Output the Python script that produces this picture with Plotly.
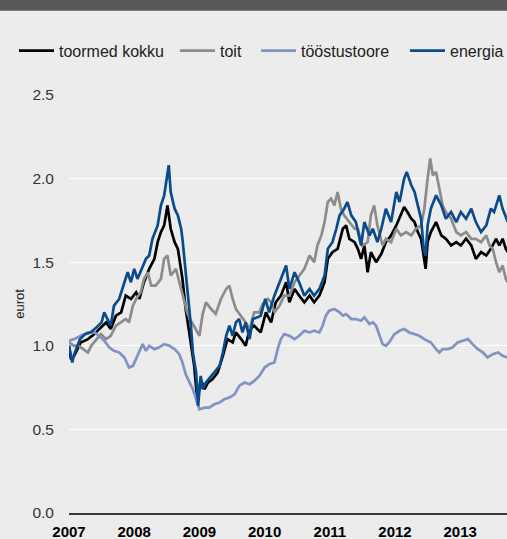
import pandas as pd
import plotly.graph_objects as go

# ---------------- data (decimal years, values in euros) ----------------
series_names = ["toormed kokku", "toit", "tööstustoore", "energia"]
series_colors = ["#000000", "#8c8c8c", "#8193c3", "#0b4a8b"]

t_kokku = [2007.00, 2007.03, 2007.08, 2007.18, 2007.29, 2007.39, 2007.49, 2007.57, 2007.64, 2007.72, 2007.80, 2007.87, 2007.95,
           2008.03, 2008.08, 2008.15, 2008.23, 2008.31, 2008.36, 2008.41, 2008.46, 2008.51, 2008.56, 2008.62, 2008.67, 2008.72, 2008.74, 2008.79, 2008.82, 2008.87, 2008.92, 2008.97,
           2009.02, 2009.08, 2009.13, 2009.20, 2009.28, 2009.36, 2009.43, 2009.51, 2009.56, 2009.64, 2009.71, 2009.77, 2009.84, 2009.94,
           2010.02, 2010.10, 2010.17, 2010.25, 2010.33, 2010.38, 2010.46, 2010.53, 2010.61, 2010.69, 2010.76, 2010.84, 2010.92, 2010.97,
           2011.04, 2011.12, 2011.20, 2011.25, 2011.30, 2011.38, 2011.43, 2011.48, 2011.53, 2011.58, 2011.63, 2011.71, 2011.79, 2011.86, 2011.94,
           2012.02, 2012.09, 2012.14, 2012.19, 2012.25, 2012.30, 2012.35, 2012.40, 2012.44, 2012.47, 2012.50, 2012.55, 2012.63, 2012.71, 2012.78, 2012.86, 2012.94,
           2013.01, 2013.09, 2013.17, 2013.24, 2013.32, 2013.40, 2013.47, 2013.55, 2013.60, 2013.65, 2013.70, 2013.73]
v_kokku = [1.00, 0.92, 0.94, 1.02, 1.04, 1.07, 1.11, 1.14, 1.10, 1.18, 1.20, 1.30, 1.28,
           1.32, 1.28, 1.38, 1.46, 1.52, 1.62, 1.68, 1.72, 1.84, 1.70, 1.62, 1.58, 1.46, 1.40, 1.22, 1.14, 1.00, 0.88, 0.66,
           0.80, 0.74, 0.78, 0.80, 0.84, 0.94, 1.04, 1.02, 1.08, 1.04, 1.00, 1.10, 1.12, 1.08,
           1.20, 1.14, 1.26, 1.30, 1.38, 1.26, 1.34, 1.30, 1.26, 1.30, 1.26, 1.30, 1.38, 1.52,
           1.56, 1.58, 1.70, 1.72, 1.64, 1.62, 1.58, 1.52, 1.60, 1.44, 1.56, 1.50, 1.55, 1.62, 1.66,
           1.72, 1.78, 1.83, 1.80, 1.76, 1.74, 1.68, 1.64, 1.52, 1.46, 1.62, 1.68, 1.74, 1.66, 1.64, 1.60, 1.62,
           1.60, 1.64, 1.60, 1.52, 1.56, 1.54, 1.58, 1.64, 1.60, 1.64, 1.58, 1.56]

t_toit = [2007.00, 2007.08, 2007.15, 2007.23, 2007.29, 2007.34, 2007.41, 2007.49, 2007.57, 2007.64, 2007.72, 2007.80, 2007.87, 2007.92, 2007.98,
          2008.03, 2008.10, 2008.15, 2008.21, 2008.26, 2008.33, 2008.41, 2008.46, 2008.51, 2008.56, 2008.64, 2008.72, 2008.77, 2008.82, 2008.87, 2008.95,
          2009.00, 2009.05, 2009.10, 2009.18, 2009.25, 2009.33, 2009.41, 2009.46, 2009.51, 2009.56, 2009.64, 2009.71, 2009.77, 2009.84, 2009.92, 2009.97,
          2010.05, 2010.10, 2010.15, 2010.23, 2010.30, 2010.38, 2010.46, 2010.53, 2010.61, 2010.69, 2010.76, 2010.81, 2010.87, 2010.92, 2010.97,
          2011.02, 2011.07, 2011.12, 2011.17, 2011.22, 2011.30, 2011.38, 2011.43, 2011.50, 2011.58, 2011.63, 2011.68, 2011.73, 2011.81, 2011.86, 2011.94,
          2012.02, 2012.09, 2012.17, 2012.25, 2012.32, 2012.40, 2012.45, 2012.50, 2012.54, 2012.58, 2012.63, 2012.68, 2012.73, 2012.78, 2012.86, 2012.94,
          2013.01, 2013.09, 2013.17, 2013.24, 2013.32, 2013.40, 2013.45, 2013.50, 2013.55, 2013.60, 2013.65, 2013.70, 2013.73]
v_toit = [1.02, 1.00, 1.00, 0.98, 0.96, 1.00, 1.03, 1.07, 1.04, 1.06, 1.12, 1.14, 1.16, 1.14, 1.24,
          1.28, 1.32, 1.40, 1.44, 1.36, 1.36, 1.40, 1.52, 1.54, 1.42, 1.46, 1.34, 1.26, 1.19, 1.15, 1.09,
          1.06, 1.19, 1.26, 1.22, 1.19, 1.28, 1.34, 1.36, 1.28, 1.22, 1.18, 1.14, 1.10, 1.20, 1.20, 1.25,
          1.28, 1.26, 1.20, 1.24, 1.30, 1.30, 1.38, 1.42, 1.46, 1.54, 1.50, 1.60, 1.66, 1.74, 1.86,
          1.88, 1.84, 1.92, 1.82, 1.78, 1.74, 1.70, 1.70, 1.60, 1.62, 1.78, 1.84, 1.72, 1.60, 1.64, 1.62,
          1.70, 1.66, 1.68, 1.66, 1.70, 1.72, 1.82, 2.00, 2.12, 2.02, 2.04, 1.94, 1.84, 1.80, 1.76, 1.68,
          1.66, 1.68, 1.64, 1.64, 1.62, 1.66, 1.60, 1.58, 1.50, 1.44, 1.48, 1.40, 1.38]

t_toostus = [2007.00, 2007.08, 2007.18, 2007.29, 2007.39, 2007.46, 2007.54, 2007.62, 2007.69, 2007.77, 2007.85, 2007.92, 2007.98,
             2008.03, 2008.08, 2008.13, 2008.18, 2008.23, 2008.31, 2008.38, 2008.46, 2008.54, 2008.62, 2008.69, 2008.74, 2008.79, 2008.85, 2008.90, 2008.95,
             2009.00, 2009.08, 2009.15, 2009.23, 2009.31, 2009.38, 2009.46, 2009.54, 2009.61, 2009.69, 2009.77, 2009.84, 2009.92,
             2010.00, 2010.07, 2010.15, 2010.20, 2010.25, 2010.30, 2010.38, 2010.46, 2010.53, 2010.61, 2010.69, 2010.76, 2010.84, 2010.89, 2010.94, 2010.99,
             2011.07, 2011.15, 2011.20, 2011.25, 2011.33, 2011.40, 2011.48, 2011.53, 2011.61, 2011.66, 2011.71, 2011.76, 2011.81, 2011.86, 2011.91, 2011.99,
             2012.07, 2012.14, 2012.22, 2012.30, 2012.37, 2012.45, 2012.55, 2012.63, 2012.68, 2012.73, 2012.81, 2012.88, 2012.96,
             2013.04, 2013.12, 2013.19, 2013.27, 2013.35, 2013.42, 2013.50, 2013.58, 2013.65, 2013.72]
v_toostus = [1.03, 1.04, 1.06, 1.08, 1.08, 1.06, 1.03, 0.99, 0.97, 0.96, 0.93, 0.87, 0.88,
             0.92, 0.97, 1.01, 0.97, 1.00, 0.98, 0.99, 1.01, 1.00, 0.98, 0.95, 0.90, 0.83, 0.78, 0.74, 0.68,
             0.62, 0.63, 0.63, 0.65, 0.66, 0.68, 0.69, 0.71, 0.76, 0.78, 0.77, 0.79, 0.82,
             0.87, 0.89, 0.90, 0.98, 1.04, 1.07, 1.06, 1.04, 1.06, 1.09, 1.08, 1.09, 1.08, 1.12, 1.18, 1.21,
             1.22, 1.20, 1.18, 1.19, 1.16, 1.16, 1.15, 1.17, 1.13, 1.14, 1.12, 1.06, 1.01, 1.00, 1.02, 1.07,
             1.09, 1.10, 1.08, 1.07, 1.06, 1.04, 1.02, 0.98, 0.96, 0.98, 0.98, 0.99, 1.02,
             1.03, 1.04, 1.01, 0.98, 0.96, 0.93, 0.95, 0.96, 0.94, 0.93]

t_energia = [2007.00, 2007.05, 2007.08, 2007.17, 2007.25, 2007.33, 2007.42, 2007.50, 2007.54, 2007.64, 2007.69, 2007.77, 2007.85, 2007.90, 2007.95,
             2008.00, 2008.05, 2008.13, 2008.18, 2008.23, 2008.28, 2008.36, 2008.41, 2008.46, 2008.51, 2008.53, 2008.56, 2008.62, 2008.67, 2008.72, 2008.74, 2008.79, 2008.82, 2008.87, 2008.90, 2008.95, 2008.98,
             2009.02, 2009.05, 2009.10, 2009.18, 2009.23, 2009.31, 2009.36, 2009.41, 2009.46, 2009.51, 2009.56, 2009.61, 2009.66, 2009.71, 2009.77, 2009.82, 2009.89, 2009.94,
             2010.01, 2010.07, 2010.15, 2010.23, 2010.28, 2010.33, 2010.38, 2010.46, 2010.53, 2010.61, 2010.69, 2010.76, 2010.84, 2010.92, 2010.97,
             2011.04, 2011.10, 2011.15, 2011.22, 2011.27, 2011.33, 2011.40, 2011.48, 2011.53, 2011.61, 2011.66, 2011.73, 2011.79, 2011.86, 2011.94,
             2012.02, 2012.07, 2012.14, 2012.18, 2012.25, 2012.30, 2012.35, 2012.40, 2012.44, 2012.47, 2012.50, 2012.55, 2012.63, 2012.71, 2012.78, 2012.86, 2012.94,
             2013.01, 2013.09, 2013.17, 2013.24, 2013.32, 2013.40, 2013.47, 2013.52, 2013.60, 2013.65, 2013.73]
v_energia = [1.00, 0.90, 0.95, 1.04, 1.07, 1.08, 1.11, 1.14, 1.20, 1.12, 1.24, 1.28, 1.38, 1.44, 1.38,
             1.46, 1.40, 1.48, 1.52, 1.54, 1.64, 1.72, 1.84, 1.90, 2.04, 2.08, 1.92, 1.82, 1.78, 1.70, 1.64, 1.46, 1.32, 1.12, 0.96, 0.84, 0.64,
             0.82, 0.74, 0.78, 0.82, 0.84, 0.88, 0.96, 1.06, 1.12, 1.06, 1.14, 1.16, 1.08, 1.14, 1.04, 1.16, 1.17, 1.18,
             1.28, 1.20, 1.30, 1.38, 1.42, 1.48, 1.34, 1.44, 1.38, 1.30, 1.34, 1.30, 1.34, 1.42, 1.58,
             1.62, 1.70, 1.78, 1.82, 1.86, 1.78, 1.74, 1.60, 1.74, 1.66, 1.70, 1.62, 1.70, 1.82, 1.74,
             1.92, 1.86, 2.00, 2.04, 1.96, 1.92, 1.84, 1.76, 1.58, 1.54, 1.72, 1.82, 1.90, 1.84, 1.76, 1.80, 1.74,
             1.80, 1.76, 1.82, 1.74, 1.68, 1.72, 1.82, 1.80, 1.90, 1.82, 1.74]

year_ticks = [2007, 2008, 2009, 2010, 2011, 2012, 2013]
year_labels = ["2007", "2008", "2009", "2010", "2011", "2012", "2013"]
y_ticks = [0.0, 0.5, 1.0, 1.5, 2.0, 2.5]
y_title = "eurot"


def to_date(t):
    return pd.Timestamp("2007-01-01") + pd.Timedelta(days=(t - 2007) * 365.25)


FONT = "Liberation Sans, Arial, Helvetica, sans-serif"
W, H = 507, 539
ML, MR, MT, MB = 69, 0, 95, 26
plot_w = W - ML - MR
plot_h = H - MT - MB

# left edges (px) of the four legend entries, one legend box per entry
legend_left_px = [14, 175, 256, 405]
legend_ids = ["legend", "legend2", "legend3", "legend4"]

fig = go.Figure()
all_t = [t_kokku, t_toit, t_toostus, t_energia]
all_v = [v_kokku, v_toit, v_toostus, v_energia]
for name, col, ts, vs, lid in zip(series_names, series_colors, all_t, all_v, legend_ids):
    fig.add_trace(go.Scatter(
        x=[to_date(t) for t in ts], y=vs, mode="lines", name=name,
        line=dict(color=col, width=2.7), hoverinfo="skip", legend=lid))

# dark band at the very top of the page
band_bottom_px = 10.7
fig.add_shape(type="rect", xref="paper", yref="paper",
              x0=-0.3, x1=1.1,
              y0=(H - MB - band_bottom_px) / plot_h, y1=(H - MB + 20) / plot_h,
              fillcolor="#58585a", line=dict(width=0), layer="above")

legend_y = (H - MB - 50.7) / plot_h
legend_layouts = {}
for lid, left in zip(legend_ids, legend_left_px):
    legend_layouts[lid] = dict(orientation="h", x=(left - ML) / plot_w, xanchor="left",
                               y=legend_y, yanchor="middle",
                               font=dict(size=16, color="#222222"),
                               bgcolor="rgba(0,0,0,0)", itemwidth=35)

fig.update_layout(
    width=W, height=H,
    margin=dict(l=ML, r=MR, t=MT, b=MB, pad=0, autoexpand=False),
    paper_bgcolor="#ebeceb", plot_bgcolor="#ebeceb",
    font=dict(family=FONT, color="#333333"),
    showlegend=True,
    xaxis=dict(type="date", automargin=False,
               range=[to_date(2007.0), to_date(2007.0 + plot_w / 65.2)],
               tickvals=[to_date(y) for y in year_ticks], ticktext=year_labels,
               showgrid=False, zeroline=False,
               showline=True, linecolor="#3a3a3a", linewidth=2, ticks="",
               tickfont=dict(size=15, color="#000000", weight="bold"),
               ticklabelstandoff=4),
    yaxis=dict(range=[0, 2.5], tickvals=y_ticks, tickformat=".1f", automargin=False,
               showgrid=True, gridcolor="#ffffff", gridwidth=1.2,
               zeroline=False, showline=False, ticks="",
               tickfont=dict(size=15.5, color="#333333"),
               ticklabelstandoff=14,
               title=dict(text=y_title, font=dict(size=13, color="#222222"), standoff=4)),
    **legend_layouts,
)

fig.write_html("out.html", config={"displayModeBar": False},
               post_script="document.body.style.margin='0';document.body.style.padding='0';")
